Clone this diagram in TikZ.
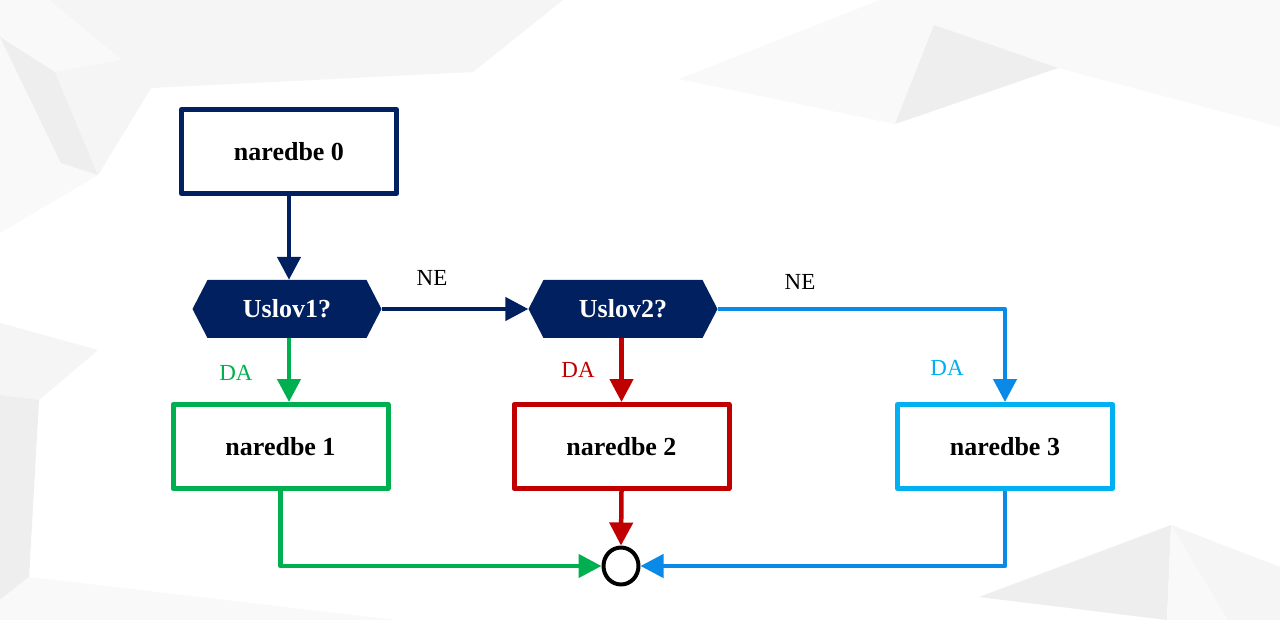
\documentclass[tikz,border=0pt]{standalone}
\usepackage{fontspec}
\setmainfont{Liberation Serif}
\usetikzlibrary{arrows.meta,shapes.geometric}
\definecolor{navy}{HTML}{002060}
\definecolor{grn}{HTML}{00B050}
\definecolor{rd}{HTML}{C00000}
\definecolor{cyn}{HTML}{00B0F0}
\definecolor{blu}{HTML}{0A8AE8}
\definecolor{bgA}{HTML}{F5F5F5}
\definecolor{bgB}{HTML}{EEEEEE}
\definecolor{bgC}{HTML}{F9F9F9}
\begin{document}
\begin{tikzpicture}[x=1pt,y=-1pt,line join=round,
  box/.style={draw,line width=5pt,minimum width=215pt,minimum height=84pt,inner sep=0pt,fill=white,font=\fontsize{26}{30}\selectfont\bfseries},
  hexa/.style={minimum width=189pt,minimum height=58pt,inner sep=0pt,text=white,font=\fontsize{26}{30}\selectfont\bfseries,
    path picture={\fill[navy] (path picture bounding box.west) -- ([xshift=15pt]path picture bounding box.north west) -- ([xshift=-15pt]path picture bounding box.north east) -- (path picture bounding box.east) -- ([xshift=-15pt]path picture bounding box.south east) -- ([xshift=15pt]path picture bounding box.south west) -- cycle;}},
  conn/.style={line width=4.5pt,-{Triangle[length=23pt,width=23pt]}},
  lbl/.style={font=\fontsize{23}{26}\selectfont,inner sep=0pt}
]
\useasboundingbox (0,0) rectangle (1280,620);
\fill[white] (0,0) rectangle (1280,620);
% background polygons
\fill[bgA] (49,0) -- (563,0) -- (473,72) -- (151,88) -- (122,60) -- cycle;
\fill[bgC] (0,0) -- (49,0) -- (122,60) -- (151,88) -- (98,175) -- (0,233) -- cycle;
\fill[bgB] (0,37) -- (55,72) -- (98,175) -- (61,163) -- cycle;
\fill[bgA] (55,72) -- (122,60) -- (151,88) -- (98,175) -- cycle;
\fill[bgC] (679,79) -- (880,0) -- (1211,0) -- (1058,68) -- (895,124) -- cycle;
\fill[bgB] (934,25) -- (1058,68) -- (895,124) -- cycle;
\fill[bgC] (1058,68) -- (1211,0) -- (1280,0) -- (1280,127) -- cycle;
\fill[bgA] (0,323) -- (98,350) -- (39,400) -- (0,395) -- cycle;
\fill[bgB] (0,395) -- (39,400) -- (29,577) -- (0,600) -- cycle;
\fill[bgC] (0,600) -- (29,577) -- (396,620) -- (0,620) -- cycle;
\fill[bgB] (1171,525) -- (979,597) -- (1167,620) -- cycle;
\fill[bgC] (1171,525) -- (1167,620) -- (1228,620) -- cycle;
\fill[bgA] (1171,525) -- (1228,620) -- (1280,620) -- (1280,567) -- cycle;
% nodes
\node[box,draw=navy] (n0) at (289,151.5) {naredbe 0};
\node[hexa] (u1) at (287,309) {Uslov1?};
\node[hexa] (u2) at (623,309) {Uslov2?};
\node[box,draw=grn] (n1) at (280.5,446.5) {naredbe 1};
\node[box,draw=rd] (n2) at (621.5,446.5) {naredbe 2};
\node[box,draw=cyn] (n3) at (1005,446.5) {naredbe 3};
\node[ellipse,draw=black,line width=4pt,minimum width=35pt,minimum height=37pt,inner sep=0pt] (c) at (621,566) {};
% labels
\node[lbl] (ne1) at (432,278) {NE};
\node[lbl] (ne2) at (800,282) {NE};
\node[lbl,text=grn] (da1) at (236,373) {DA};
\node[lbl,text=rd] (da2) at (578,370) {DA};
\node[lbl,text=cyn] (da3) at (947,368) {DA};
% connectors
\draw[conn,navy] (n0.south) -- (n0.south |- u1.north);
\draw[conn,navy] (u1.east) -- (u2.west);
\draw[conn,blu] (u2.east) -| (n3.north);
\draw[conn,grn] (u1.south -| n0.south) -- (n0.south |- n1.north);
\draw[conn,rd] (u2.south -| n2.north) -- (n2.north);
\draw[conn,grn] (n1.south) |- (c.west);
\draw[conn,rd] (n2.south) -- (c.north);
\draw[conn,blu] (n3.south) |- (c.east);
\end{tikzpicture}
\end{document}
